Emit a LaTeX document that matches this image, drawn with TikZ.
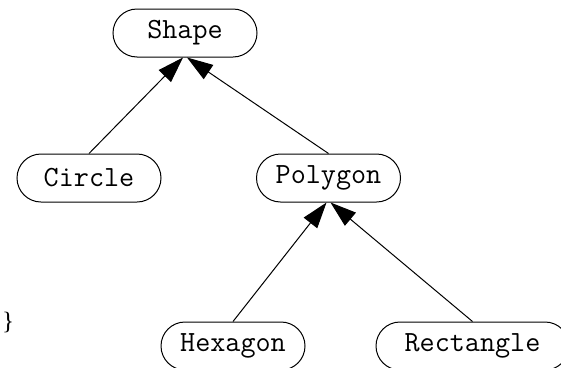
\documentclass[tikz,border=0pt]{standalone}
\usepackage{fontspec}
\newfontfamily\bracefont{Liberation Serif}
\usetikzlibrary{arrows.meta}
\tikzset{
  cls/.style={draw, line width=1pt, rounded corners=24pt, minimum height=48pt,
    minimum width=144pt, inner sep=0pt, font=\fontsize{29.3}{34}\selectfont\ttfamily},
  inh/.style={line width=1pt, -{Triangle[length=26pt,width=17pt]}}
}
\begin{document}
\begin{tikzpicture}[x=1pt,y=-1pt]
\useasboundingbox (0,0) rectangle (561,367);
\clip (0,0) rectangle (561,367);
\node[cls] (shape) at (185,33) {Shape};
\node[cls] (circle) at (89,178) {Circle};
\node[cls] (polygon) at (328.5,178) {Polygon};
\node[cls] (hexagon) at (233,346) {Hexagon};
\node[cls, minimum width=193pt] (rect) at (472.5,346) {Rectangle};
\node[font=\bracefont\fontsize{25}{30}\selectfont, inner sep=0pt] (brace) at (8,322) {\}};
\draw[inh] (circle.north) -- ([xshift=-2pt]shape.south);
\draw[inh] (polygon.north) -- ([xshift=2pt]shape.south);
\draw[inh] (hexagon.north) -- ([xshift=-2pt]polygon.south);
\draw[inh] (rect.north) -- ([xshift=2pt]polygon.south);
\end{tikzpicture}
\end{document}
